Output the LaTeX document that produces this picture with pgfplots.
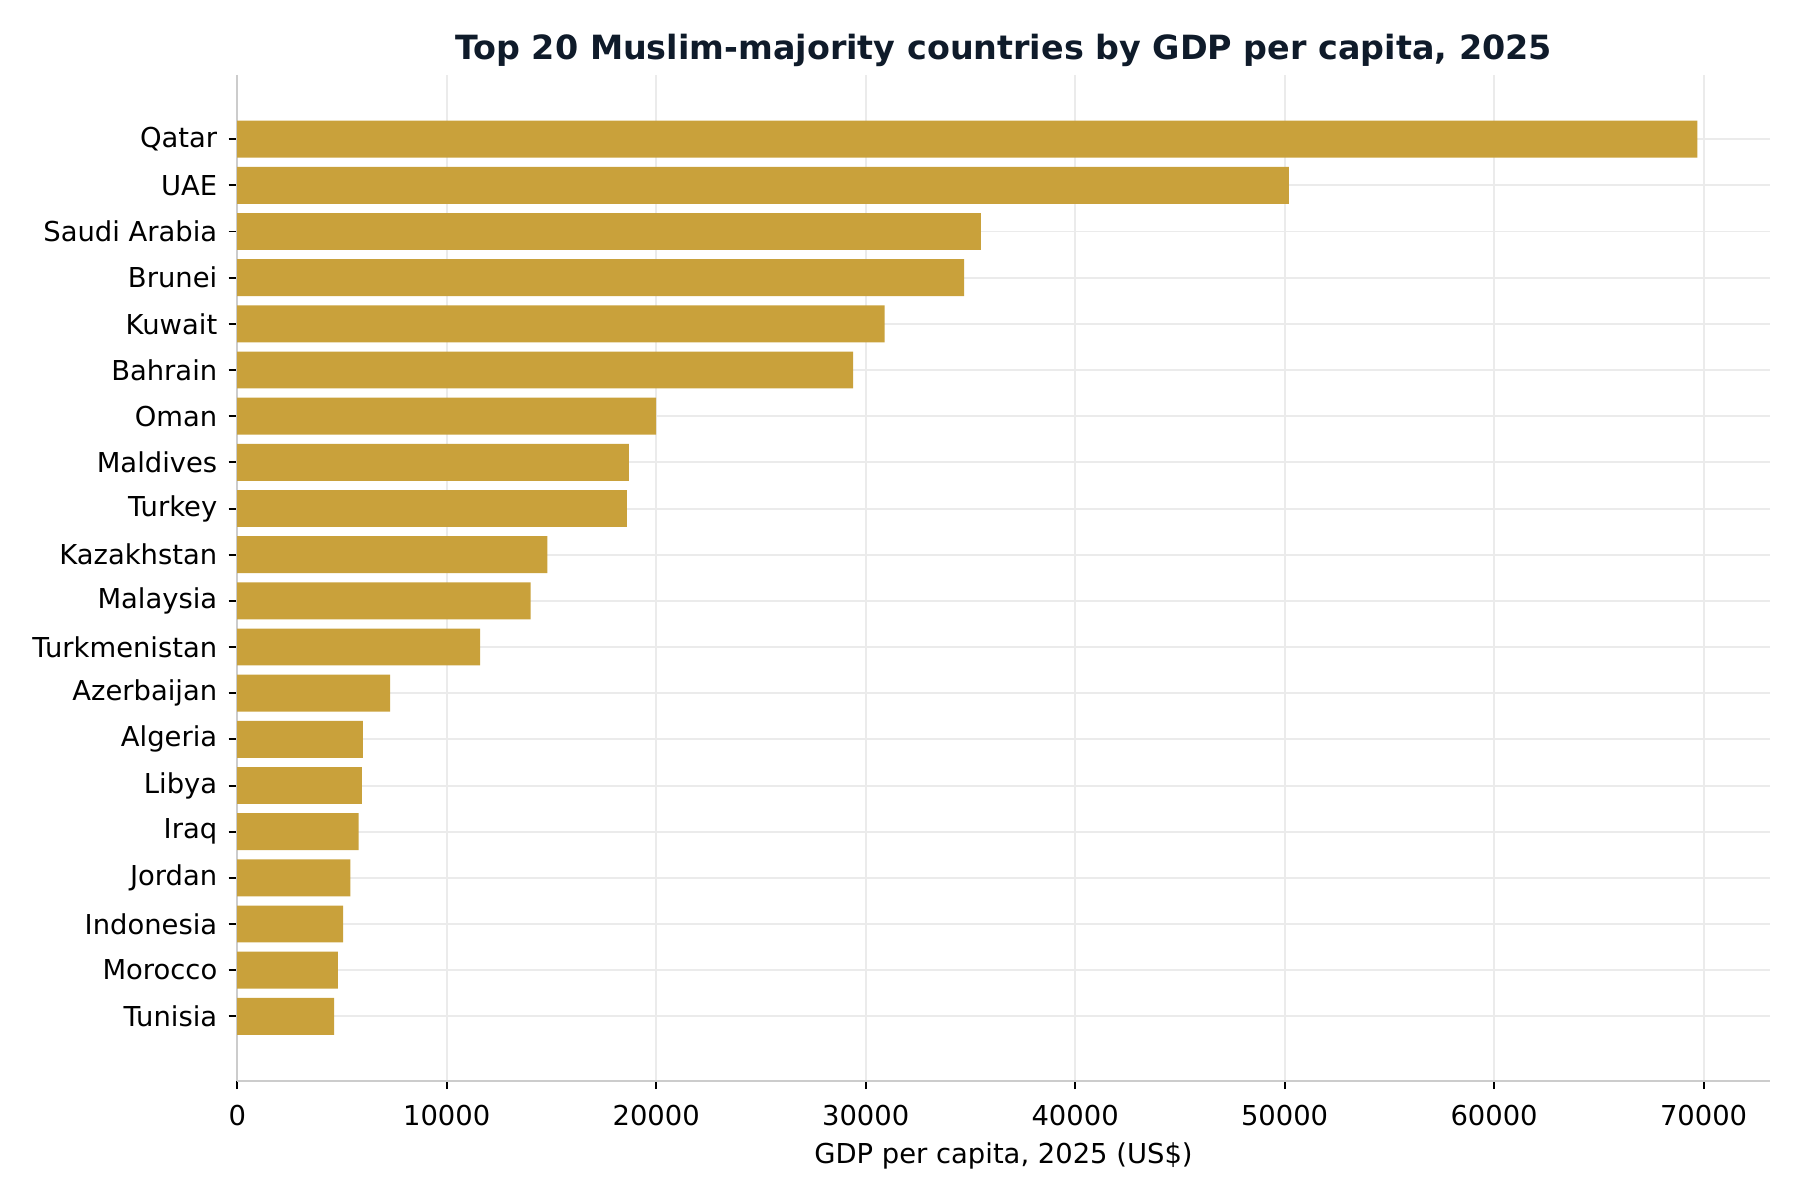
\documentclass[border=0pt]{standalone}
\usepackage{pgfplots}
\pgfplotsset{compat=1.18}
\usepackage{fontspec}
\setmainfont{DejaVu Sans}
\definecolor{barc}{HTML}{C9A13B}
\definecolor{titlec}{HTML}{0F1B2A}
\definecolor{gridc}{HTML}{EBEBEB}
\definecolor{spinec}{HTML}{CCCCCC}
\begin{document}
\begin{tikzpicture}
\useasboundingbox (-94.9bp,-47.8bp) rectangle (625.1bp,432.2bp);
\begin{axis}[
  at={(0,0)}, anchor=south west,
  scale only axis, width=613bp, height=402.2bp,
  xbar, bar width=0.8,
  y dir=reverse,
  xmin=0, xmax=73160,
  ymin=-1.39, ymax=20.39,
  scaled x ticks=false,
  xtick={0,10000,20000,30000,40000,50000,60000,70000},
  xticklabels={0,10000,20000,30000,40000,50000,60000,70000},
  ytick={0,...,19},
  yticklabels={Qatar,UAE,Saudi Arabia,Brunei,Kuwait,Bahrain,Oman,Maldives,Turkey,Kazakhstan,Malaysia,Turkmenistan,Azerbaijan,Algeria,Libya,Iraq,Jordan,Indonesia,Morocco,Tunisia},
  axis x line*=bottom, axis y line*=left,
  axis line style={draw=spinec, line width=0.8pt, -},
  tick align=outside,
  major tick length=3.5pt,
  tick style={black, line width=0.8pt},
  grid=major,
  major grid style={draw=gridc, line width=0.8pt},
  ticklabel style={font=\fontsize{11}{13}\selectfont, text=black},
  xticklabel style={yshift=-2.8bp},
  yticklabel style={xshift=-1bp},
  xlabel={GDP per capita, 2025 (US\$)},
  xlabel style={font=\fontsize{11}{13}\selectfont},
  title={Top 20 Muslim-majority countries by GDP per capita, 2025},
  title style={font=\fontsize{13.4}{16}\selectfont\bfseries, text=titlec, yshift=-6bp},
]
\addplot[fill=barc, draw=none] coordinates {
(69700,0) (50200,1) (35500,2) (34700,3) (30900,4) (29400,5) (20000,6) (18700,7) (18600,8) (14800,9)
(14000,10) (11600,11) (7300,12) (6000,13) (5950,14) (5800,15) (5400,16) (5050,17) (4800,18) (4620,19)
};
\end{axis}
\end{tikzpicture}
\end{document}
